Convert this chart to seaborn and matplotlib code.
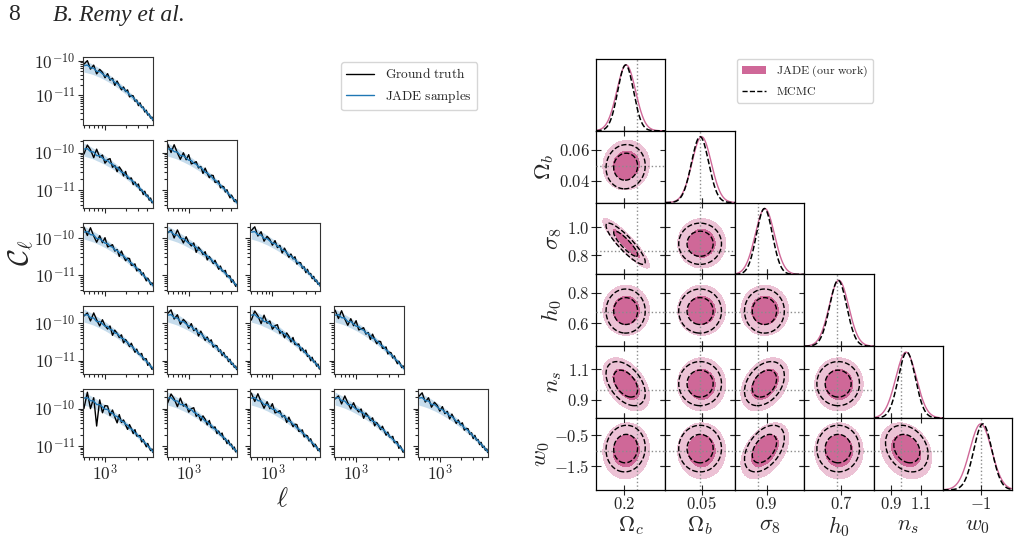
import numpy as np
import matplotlib
matplotlib.use("Agg")
import matplotlib.pyplot as plt
import seaborn as sns
from matplotlib.ticker import (FixedLocator, FixedFormatter, NullFormatter, NullLocator,
                               LogLocator)
from matplotlib.lines import Line2D
from matplotlib.patches import Patch

sns.set_style("ticks")
plt.rcParams["font.family"] = ["DejaVu Serif"]
plt.rcParams["mathtext.fontset"] = "cm"

# ---------------- data: angular power spectra (units of 1e-12) ----------------
ell = [500, 560, 620, 690, 760, 840, 920, 1000, 1090, 1180, 1280, 1380, 1490, 1600,
       1720, 1840, 1970, 2100, 2240, 2380, 2530, 2680, 2840, 3000, 3170, 3340, 3520,
       3700, 3890, 4080, 4280, 4480, 4690, 4850]

cl_mean_bin1 = [76, 69.7, 63.8, 57.7, 52.3, 46.9, 42.1, 38, 34, 30.5, 27.2, 24.3, 21.6, 19.2,
                17, 15.2, 13.5, 12, 10.6, 9.45, 8.4, 7.48, 6.65, 5.92, 5.26, 4.69, 4.17,
                3.73, 3.32, 2.97, 2.66, 2.38, 2.13, 1.95]
cl_mean_bin2 = [130, 118, 108, 97.5, 88, 79, 71.5, 65, 58.5, 53, 47.5, 43, 38.4, 34.5,
                30.6, 27.8, 25, 22.5, 20.2, 18.1, 16.3, 14.8, 13.3, 12, 10.8, 9.75, 8.8,
                8, 7.2, 6.6, 5.9, 5.4, 4.9, 4.55]
cl_mean_bin3 = [150, 136.5, 124.5, 112.5, 102, 91.5, 82.5, 75, 67.5, 61, 54.7, 49.2, 44.2, 39.8,
                35.5, 32.1, 28.8, 26, 23.3, 20.9, 18.8, 17, 15.3, 13.8, 12.5, 11.25, 10.1,
                9.2, 8.3, 7.6, 6.85, 6.2, 5.6, 5.25]
cl_mean_bin4 = [174, 158, 144.5, 130.5, 118, 106, 95.7, 87, 78.3, 70.5, 63.5, 57, 51.3, 46.1,
                40.9, 37.4, 33.4, 30.1, 27, 24.3, 21.8, 19.7, 17.7, 16, 14.4, 13, 11.7,
                10.7, 9.7, 8.8, 7.9, 7.2, 6.5, 6.1]
cl_mean_bin5 = [200, 182, 166, 150, 136, 122, 110, 100, 90, 81, 73, 66, 59, 53,
                47, 43, 38.4, 34.6, 31, 27.9, 25.1, 22.7, 20.4, 18.4, 16.6, 15, 13.5,
                12.3, 11.1, 10.1, 9.1, 8.3, 7.5, 7.0]

truth_ratio_a = [1.05, 1.45, 0.9, 1.3, 0.8, 1.2, 1.1, 0.85, 1.25, 0.9, 1.15, 0.8, 1.2, 1.0, 0.85,
                 1.15, 0.95, 1.2, 0.85, 1.05, 1.15, 0.9, 1.1, 0.85, 1.15, 0.95, 1.1, 0.88, 1.12,
                 0.9, 1.08, 0.92, 1.1, 0.95]
truth_ratio_b = [0.7, 1.35, 1.1, 0.75, 1.4, 0.95, 1.2, 0.8, 1.1, 1.3, 0.85, 1.05, 0.8, 1.2, 1.1,
                 0.85, 1.25, 0.9, 1.0, 1.15, 0.85, 1.1, 0.95, 1.2, 0.9, 1.05, 0.85, 1.15, 0.95,
                 1.1, 0.9, 1.12, 0.92, 1.05]
truth_ratio_c = [1.3, 0.85, 1.5, 1.0, 0.75, 1.25, 0.9, 1.35, 0.85, 1.0, 1.2, 0.9, 1.1, 0.8, 1.25,
                 1.0, 0.85, 1.1, 1.2, 0.88, 1.0, 1.18, 0.85, 1.05, 1.12, 0.9, 1.15, 0.95, 0.85,
                 1.1, 1.05, 0.9, 1.12, 1.0]
truth_ratio_d = [0.9, 1.2, 0.8, 1.45, 1.05, 0.8, 1.3, 1.0, 0.9, 1.2, 0.75, 1.15, 1.05, 0.9, 1.2,
                 0.8, 1.1, 1.0, 0.88, 1.2, 1.0, 0.85, 1.15, 0.95, 1.0, 1.2, 0.9, 1.05, 1.15,
                 0.85, 1.1, 1.0, 0.9, 1.08]
truth_ratio_e = [0.5, 1.5, 0.6, 1.3, 0.25, 1.4, 0.7, 1.2, 1.3, 0.8, 1.25, 0.9, 0.7, 1.3, 0.9,
                 1.15, 0.95, 0.8, 1.2, 1.05, 0.85, 1.2, 0.9, 1.0, 1.15, 0.85, 1.1, 0.95, 0.85,
                 1.15, 1.0, 0.9, 1.1, 0.95]
jade_wiggle = [0.95, 1.08, 0.98, 1.06, 0.94, 1.05, 1.0, 0.96, 1.05, 0.98, 1.03, 0.96, 1.04, 1.0,
               0.97, 1.03, 0.99, 1.03, 0.97, 1.01, 1.03, 0.98, 1.02, 0.97, 1.02, 0.99, 1.02,
               0.98, 1.01, 0.99, 1.01, 0.99, 1.01, 1.0]
band_frac = [0.38, 0.36, 0.34, 0.32, 0.31, 0.29, 0.28, 0.27, 0.26, 0.25, 0.24, 0.23, 0.22, 0.21,
             0.21, 0.2, 0.19, 0.19, 0.18, 0.18, 0.17, 0.17, 0.16, 0.16, 0.16, 0.15, 0.15,
             0.15, 0.14, 0.14, 0.14, 0.14, 0.13, 0.13]
panel_pattern = [[0], [1, 2], [2, 3, 0], [3, 0, 1, 2], [4, 1, 2, 3, 0]]
spectra_xticks = [1000]
spectra_xticklabels = [r"$10^{3}$"]
spectra_yticks = [1e-11, 1e-10]
spectra_yticklabels = [r"$10^{-11}$", r"$10^{-10}$"]

# ---------------- data: cosmological posterior summaries ----------------
param_labels = [r"$\Omega_c$", r"$\Omega_b$", r"$\sigma_8$", r"$h_0$", r"$n_s$", r"$w_0$"]
param_truth = [0.2664, 0.0492, 0.831, 0.6727, 0.9645, -1.0]
param_limits = [(0.05, 0.42), (0.026, 0.072), (0.66, 1.18), (0.45, 0.92), (0.78, 1.25), (-2.25, 0.05)]
param_ticks = [[0.2], [0.05], [0.9], [0.7], [0.9, 1.1], [-1]]
param_ticklabels = [["0.2"], ["0.05"], ["0.9"], ["0.7"], ["0.9", "1.1"], ["-1"]]
param_yticks = [[], [0.04, 0.06], [0.8, 1.0], [0.6, 0.8], [0.9, 1.1], [-1.5, -0.5]]
param_yticklabels = [[], ["0.04", "0.06"], ["0.8", "1.0"], ["0.6", "0.8"], ["0.9", "1.1"],
                     ["-1.5", "-0.5"]]
jade_mean = [0.211, 0.050, 0.885, 0.685, 1.0, -1.0]
jade_std = [0.05, 0.0064, 0.072, 0.066, 0.07, 0.36]
mcmc_mean = [0.208, 0.049, 0.882, 0.68, 1.005, -0.93]
mcmc_std = [0.042, 0.0057, 0.06, 0.058, 0.058, 0.30]
jade_corr = [[1, 0.05, -0.9, 0.0, -0.45, 0.05],
             [0.05, 1, 0.0, 0.0, 0.0, 0.0],
             [-0.9, 0.0, 1, 0.0, 0.35, 0.45],
             [0.0, 0.0, 0.0, 1, 0.0, 0.0],
             [-0.45, 0.0, 0.35, 0.0, 1, -0.25],
             [0.05, 0.0, 0.45, 0.0, -0.25, 1]]
mcmc_corr = [[1, 0.05, -0.88, 0.0, -0.45, 0.05],
             [0.05, 1, 0.0, 0.0, 0.0, 0.0],
             [-0.88, 0.0, 1, 0.0, 0.35, 0.45],
             [0.0, 0.0, 0.0, 1, 0.0, 0.0],
             [-0.45, 0.0, 0.35, 0.0, 1, -0.25],
             [0.05, 0.0, 0.45, 0.0, -0.25, 1]]
levels_r2 = [2.30, 6.18]

# ---------------- styling ----------------
W, H = 1019, 538
BLUE = "#1f77b4"
PINK = "#cf6898"
PINK_LIGHT = "#ecc2d5"


def rect(x0, y0, w, h):
    return [x0 / W, 1 - (y0 + h) / H, w / W, h / H]


def cm_labels(strings):
    return [r"$\mathrm{%s}$" % s for s in strings]


fig = plt.figure(figsize=(W / 100, H / 100), dpi=100)

fig.text(8 / W, 1 - 15 / H, "8", fontsize=17, family="Liberation Serif", va="center")
fig.text(53 / W, 1 - 15 / H, "B. Remy et al.", fontsize=17, family="Liberation Serif",
         style="italic", va="center")

# ---------------- left: power spectra grid ----------------
cl_means = [cl_mean_bin1, cl_mean_bin2, cl_mean_bin3, cl_mean_bin4, cl_mean_bin5]
truth_ratios = [truth_ratio_a, truth_ratio_b, truth_ratio_c, truth_ratio_d, truth_ratio_e]
ell_arr = np.array(ell, dtype=float)
band = np.array(band_frac)

for r in range(5):
    for c in range(r + 1):
        ax = fig.add_axes(rect(83 + 83.7 * c, 57 + 83 * r, 70, 68))
        mean = np.array(cl_means[r]) * 1e-12
        truth = mean * np.array(truth_ratios[panel_pattern[r][c]])
        jade = mean * np.array(jade_wiggle)
        ax.fill_between(ell_arr, mean * (1 - band), mean * (1 + band), color=BLUE,
                        alpha=0.25, lw=0)
        sns.lineplot(x=ell_arr, y=truth, color="k", lw=1.0, ax=ax, errorbar=None)
        sns.lineplot(x=ell_arr, y=jade, color=BLUE, lw=1.0, ax=ax, errorbar=None)
        ax.set_xscale("log")
        ax.set_yscale("log")
        ax.set_xlim(485, 4850)
        ax.xaxis.set_major_locator(FixedLocator(spectra_xticks))
        ax.xaxis.set_major_formatter(FixedFormatter(spectra_xticklabels))
        ax.yaxis.set_major_locator(FixedLocator(spectra_yticks))
        ax.yaxis.set_major_formatter(FixedFormatter(spectra_yticklabels))
        ax.xaxis.set_minor_locator(LogLocator(base=10, subs=np.arange(2, 10)))
        ax.yaxis.set_minor_locator(LogLocator(base=10, subs=np.arange(2, 10)))
        ax.xaxis.set_minor_formatter(NullFormatter())
        ax.yaxis.set_minor_formatter(NullFormatter())
        ax.tick_params(which="both", labelsize=12.5, width=0.8, pad=2)
        ax.tick_params(which="major", length=3.5)
        ax.tick_params(which="minor", length=2, labelleft=False, labelbottom=False)
        if r < 4:
            ax.tick_params(which="both", labelbottom=False)
        if c > 0:
            ax.tick_params(which="both", labelleft=False)
        for s in ax.spines.values():
            s.set_linewidth(0.8)
            s.set_color("#333333")
        ax.set_xlabel("")
        ax.set_ylabel("")

fig.text(21 / W, 1 - 253 / H, r"$\mathcal{C}_\ell$", fontsize=21, rotation=90,
         ha="center", va="center")
fig.text(282 / W, 1 - 499 / H, r"$\ell$", fontsize=19, ha="center", va="center")

fig.legend(handles=[Line2D([], [], color="k", lw=1), Line2D([], [], color=BLUE, lw=1)],
           labels=[r"$\mathrm{Ground\ truth}$", r"$\mathrm{JADE\ samples}$"], loc="upper left",
           bbox_to_anchor=(341 / W, 1 - 62 / H), borderaxespad=0, fontsize=9.6,
           handlelength=2.1, handletextpad=0.8, frameon=True)

# ---------------- right: corner plot ----------------
for i in range(6):
    for j in range(i + 1):
        ax = fig.add_axes(rect(596 + 69.4 * j, 59 + 71.8 * i, 69.4, 71.8))
        xl = param_limits[j]
        if i == j:
            xs = np.linspace(xl[0], xl[1], 300)
            yj = np.exp(-0.5 * ((xs - jade_mean[i]) / jade_std[i]) ** 2)
            ym = np.exp(-0.5 * ((xs - mcmc_mean[i]) / mcmc_std[i]) ** 2)
            sns.lineplot(x=xs, y=yj, color=PINK, lw=1.0, ax=ax, errorbar=None)
            sns.lineplot(x=xs, y=ym, color="k", lw=1.1, ls="--", ax=ax, errorbar=None)
            ax.axvline(param_truth[i], color="0.55", ls=":", lw=1.0, zorder=0)
            ax.set_ylim(0, 1.09)
            ax.yaxis.set_major_locator(NullLocator())
            ax.tick_params(axis="x", direction="inout", length=7, width=0.8, labelsize=12,
                           top=False, bottom=True, pad=1)
        else:
            yl = param_limits[i]
            xs = np.linspace(xl[0], xl[1], 250)
            ys = np.linspace(yl[0], yl[1], 250)
            X, Y = np.meshgrid(xs, ys)
            for mean_v, std_v, corr_m, filled in ((jade_mean, jade_std, jade_corr, True),
                                                  (mcmc_mean, mcmc_std, mcmc_corr, False)):
                dx = (X - mean_v[j]) / std_v[j]
                dy = (Y - mean_v[i]) / std_v[i]
                rho = corr_m[i][j]
                R2 = (dx ** 2 - 2 * rho * dx * dy + dy ** 2) / (1 - rho ** 2)
                if filled:
                    ax.contourf(X, Y, R2, levels=[0, levels_r2[0], levels_r2[1]],
                                colors=[PINK, PINK_LIGHT])
                else:
                    ax.contour(X, Y, R2, levels=levels_r2, colors="k",
                               linestyles="--", linewidths=1.0, zorder=4)
            ax.axvline(param_truth[j], color="0.55", ls=":", lw=1.0, zorder=3)
            ax.axhline(param_truth[i], color="0.55", ls=":", lw=1.0, zorder=3)
            ax.set_ylim(*yl)
            ax.yaxis.set_major_locator(FixedLocator(param_yticks[i]))
            ax.yaxis.set_major_formatter(FixedFormatter(cm_labels(param_yticklabels[i])))
            ax.tick_params(direction="inout", length=7, width=0.8, labelsize=12,
                           top=True, right=True, bottom=True, left=True, pad=1)
        ax.set_xlim(*xl)
        ax.xaxis.set_major_locator(FixedLocator(param_ticks[j]))
        ax.xaxis.set_major_formatter(FixedFormatter(cm_labels(param_ticklabels[j])))
        ax.xaxis.set_minor_locator(NullLocator())
        ax.yaxis.set_minor_locator(NullLocator())
        ax.set_xlabel("")
        ax.set_ylabel("")
        if i < 5:
            ax.tick_params(labelbottom=False)
        else:
            ax.set_xlabel(param_labels[j], fontsize=16, labelpad=1)
        if j > 0 or i == 0:
            ax.tick_params(labelleft=False)
        else:
            ax.set_ylabel(param_labels[i], fontsize=16.5, labelpad=2)
        for s in ax.spines.values():
            s.set_linewidth(0.9)
            s.set_color("k")

fig.legend(handles=[Patch(facecolor=PINK, edgecolor="none"),
                    Line2D([], [], color="k", lw=1, ls="--")],
           labels=[r"$\mathrm{JADE\ (our\ work)}$", r"$\mathrm{MCMC}$"], loc="upper left",
           bbox_to_anchor=(737 / W, 1 - 59 / H), borderaxespad=0, fontsize=8.6,
           handlelength=2.0, handletextpad=0.9, frameon=True)

fig.savefig("out.png", dpi=100)
